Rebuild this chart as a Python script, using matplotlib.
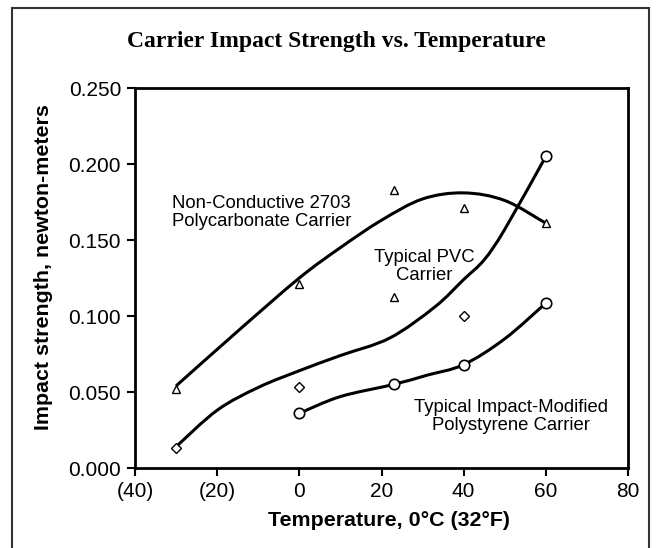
import matplotlib.pyplot as plt
import numpy as np
from matplotlib.path import Path
from matplotlib.patches import PathPatch, Rectangle

# measured points (temperature in C, impact strength in N-m)
pc_x = [-30, 0, 23, 23, 40, 60]
pc_y = [0.052, 0.121, 0.183, 0.1125, 0.171, 0.161]

pvc_x = [-30, 0, 40]
pvc_y = [0.013, 0.053, 0.100]

ps_x = [0, 23, 40, 60, 60]
ps_y = [0.036, 0.055, 0.068, 0.1085, 0.205]

# trend curves (nodes of smooth line)
pc_curve_x = [-30, -15, 0, 10, 20, 30, 40, 50, 60]
pc_curve_y = [0.054, 0.090, 0.125, 0.145, 0.163, 0.177, 0.181, 0.176, 0.161]

pvc_curve_x = [-30, -20, -10, 0, 10, 22, 33, 40, 45, 50, 60]
pvc_curve_y = [0.014, 0.038, 0.053, 0.064, 0.074, 0.0855, 0.106, 0.124, 0.137, 0.157, 0.205]

ps_curve_x = [0, 10, 23, 31, 40, 50, 60]
ps_curve_y = [0.036, 0.047, 0.055, 0.061, 0.068, 0.085, 0.1085]

x_ticks = [-40, -20, 0, 20, 40, 60, 80]
x_labels = ['(40)', '(20)', '0', '20', '40', '60', '80']
y_ticks = [0.0, 0.05, 0.10, 0.15, 0.20, 0.25]


def smooth_path(xs, ys):
    # catmull-rom nodes -> cubic bezier path
    p = np.column_stack([xs, ys]).astype(float)
    verts = [p[0]]
    codes = [Path.MOVETO]
    n = len(p)
    for i in range(n - 1):
        p0 = p[i - 1] if i > 0 else p[i]
        p1 = p[i]
        p2 = p[i + 1]
        p3 = p[i + 2] if i + 2 < n else p[i + 1]
        c1 = p1 + (p2 - p0) / 6.0
        c2 = p2 - (p3 - p1) / 6.0
        verts += [c1, c2, p2]
        codes += [Path.CURVE4] * 3
    return Path(verts, codes)


plt.rcParams['font.family'] = ['Liberation Sans', 'DejaVu Sans']

W, H = 657, 548
fig = plt.figure(figsize=(W / 100, H / 100), dpi=100)
ax = fig.add_axes([135 / W, 1 - 468 / H, (628 - 135) / W, (468 - 88) / H])

# outer frame
fig.add_artist(Rectangle((12 / W, -0.1), (649 - 12) / W, (548 - 8) / H + 0.1,
                         transform=fig.transFigure, fill=False,
                         edgecolor='#333333', lw=1.5))

for cx, cy in [(pc_curve_x, pc_curve_y), (pvc_curve_x, pvc_curve_y), (ps_curve_x, ps_curve_y)]:
    ax.add_patch(PathPatch(smooth_path(cx, cy), fill=False, edgecolor='black', lw=2.2, zorder=2))

ax.plot(pc_x, pc_y, linestyle='none', marker='^', ms=6, mfc='white', mec='black', mew=1, zorder=3)
ax.plot(pvc_x, pvc_y, linestyle='none', marker='D', ms=5, mfc='white', mec='black', mew=1, zorder=3)
ax.plot(ps_x, ps_y, linestyle='none', marker='o', ms=7.5, mfc='white', mec='black', mew=1.2, zorder=3)

ax.set_xlim(-40, 80)
ax.set_ylim(0, 0.25)
ax.set_xticks(x_ticks)
ax.set_xticklabels(x_labels)
ax.set_yticks(y_ticks)
ax.set_yticklabels(['%.3f' % v for v in y_ticks])
ax.tick_params(axis='both', direction='out', length=6, width=1.5, labelsize=15, pad=4)
for s in ax.spines.values():
    s.set_linewidth(2)
    s.set_color('black')

ax.text(-31, 0.168, 'Non-Conductive 2703\nPolycarbonate Carrier', fontsize=13.3,
        ha='left', va='center', linespacing=1.1)
ax.text(30.5, 0.1326, 'Typical PVC\nCarrier', fontsize=13.3, ha='center', va='center', linespacing=1.1)
ax.text(51.6, 0.0338, 'Typical Impact-Modified\nPolystyrene Carrier', fontsize=13.3,
        ha='center', va='center', linespacing=1.1)

fig.text(336 / W, 1 - 41 / H, 'Carrier Impact Strength vs. Temperature', family='Liberation Serif',
         fontsize=17, fontweight='bold', ha='center', va='center')
fig.text(44 / W, 1 - 267 / H, 'Impact strength, newton-meters', fontsize=15.4, fontweight='bold',
         rotation=90, ha='center', va='center')
fig.text(389 / W, 1 - 521 / H, 'Temperature, 0°C (32°F)', fontsize=15.4, fontweight='bold',
         ha='center', va='center')

fig.savefig('out.png', dpi=100)
